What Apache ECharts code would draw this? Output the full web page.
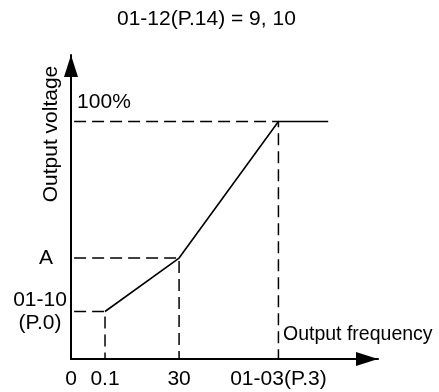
<!DOCTYPE html>
<html>
<head>
<meta charset="utf-8" />
<title>V/F curve</title>
<script type="text/javascript" src="https://cdn.jsdelivr.net/npm/echarts@6/dist/echarts.min.js"></script>
<style>
  html, body { margin: 0; padding: 0; background: #fff; }
</style>
</head>
<body>
<div id="vf" style="width:439px; height:392px"></div>
<script type="text/javascript">
// schematic positions (x: 01-03 = 100, y: 100% = 100)
var xTicks = [0, 16.4, 52.1, 100];
var xTickLabels = ['0', '0.1', '30', '01-03(P.3)'];
var yTicks = [42.5, 20];
var yTickLabels = ['A', '01-10\n(P.0)'];

// V/F curve points
var curveX = [16.4, 52.1, 100, 124];
var curveY = [20, 42.5, 100, 100];

// guide lines (dashed)
var guideLevels = [100, 42.5, 20];
var guideFreqs = [100, 52.1, 16.4];

var xMax = 148, yMax = 128;
var font = 'Liberation Sans, Arial, sans-serif';

function loadChart() {
    var myChart = echarts.init(document.getElementById('vf'));

    var series = [];
    var curve = [];
    for (var i = 0; i < curveX.length; i++) {
        curve.push([curveX[i], curveY[i]]);
    }
    series.push({
        type: 'line',
        data: curve,
        showSymbol: false,
        silent: true,
        lineStyle: { color: '#000', width: 1.6 }
    });

    for (var j = 0; j < guideLevels.length; j++) {
        var pts = [[1.5, guideLevels[j]], [guideFreqs[j], guideLevels[j]], [guideFreqs[j], 0]];
        var s = {
            type: 'line',
            data: pts,
            showSymbol: false,
            silent: true,
            lineStyle: { color: '#000', width: 1.5, type: [12, 6] }
        };
        if (j === 0) {
            // 100% label above the top guide line
            s.data = [
                { value: pts[0], label: { show: true, position: 'right', formatter: '100%',
                    offset: [-2, -19], fontSize: 21, color: '#000', fontFamily: font } },
                pts[1], pts[2]
            ];
            s.showSymbol = true;
            s.symbolSize = 0;
        }
        series.push(s);
    }

    myChart.setOption({
        animation: false,
        title: {
            text: '01-12(P.14) = 9, 10',
            left: 112,
            top: 4,
            textStyle: { fontSize: 21, fontWeight: 'normal', color: '#000', fontFamily: font }
        },
        grid: { left: 71, right: 61, top: 55, bottom: 33, containLabel: false, outerBoundsMode: 'none' },
        xAxis: {
            type: 'value',
            min: 0,
            max: xMax,
            name: 'Output frequency',
            nameLocation: 'end',
            nameGap: -95,
            nameMoveOverlap: false,
            nameTextStyle: { fontSize: 19.5, color: '#000', fontFamily: font,
                align: 'left', verticalAlign: 'bottom', padding: [0, 0, 14, 0] },
            axisLine: { lineStyle: { color: '#000', width: 2 },
                symbol: ['none', 'triangle'], symbolSize: [14, 22], symbolOffset: [0, -11] },
            axisTick: { show: false },
            splitLine: { show: false },
            axisLabel: {
                customValues: xTicks,
                margin: 10,
                fontSize: 21,
                color: '#000',
                fontFamily: font,
                formatter: function (v) {
                    var k = xTicks.indexOf(v);
                    return k >= 0 ? xTickLabels[k] : '';
                }
            }
        },
        yAxis: {
            type: 'value',
            min: 0,
            max: yMax,
            name: 'Output voltage',
            nameLocation: 'middle',
            nameGap: 9,
            nameMoveOverlap: false,
            nameTextStyle: { fontSize: 21, color: '#000', fontFamily: font,
                padding: [0, 0, 0, 146] },
            axisLine: { lineStyle: { color: '#000', width: 2 },
                symbol: ['none', 'triangle'], symbolSize: [14, 22], symbolOffset: [0, -11] },
            axisTick: { show: false },
            splitLine: { show: false },
            axisLabel: {
                customValues: yTicks,
                margin: 31,
                align: 'center',
                fontSize: 21,
                lineHeight: 23,
                color: '#000',
                fontFamily: font,
                formatter: function (v) {
                    var k = yTicks.indexOf(v);
                    if (k === 0) return '{a|' + yTickLabels[k] + '}';
                    return k >= 0 ? yTickLabels[k] : '';
                },
                rich: {
                    a: { fontSize: 21, color: '#000', fontFamily: font, padding: [0, 0, 0, 12] }
                }
            }
        },
        series: series
    });
}

loadChart();
</script>
</body>
</html>
